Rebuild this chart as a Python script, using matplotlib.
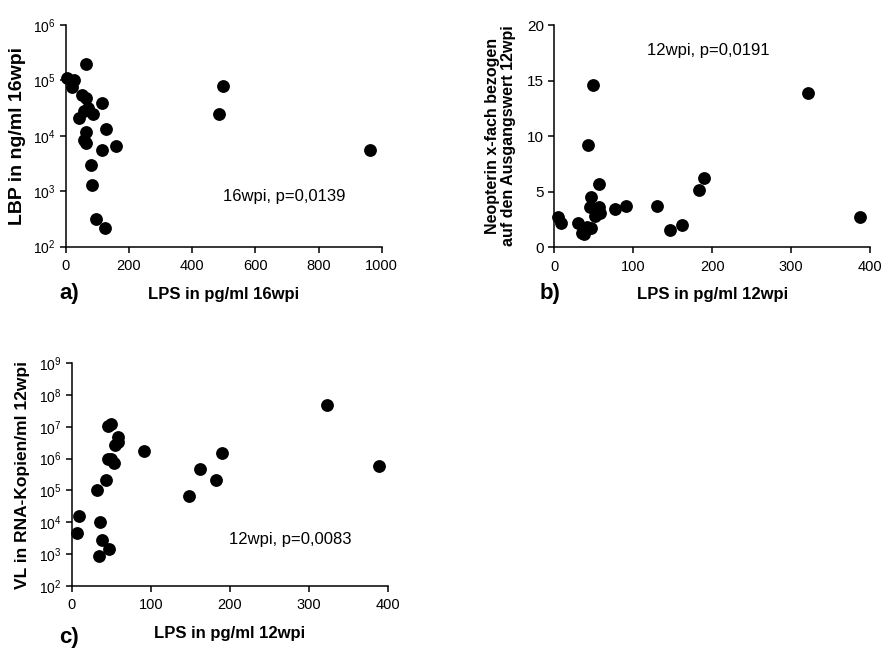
import matplotlib
matplotlib.use("Agg")
import matplotlib.pyplot as plt
from matplotlib.ticker import LogLocator, LogFormatterSciNotation, NullLocator

plt.rcParams["font.family"] = ["Liberation Sans", "DejaVu Sans"]
plt.rcParams["mathtext.fontset"] = "custom"
plt.rcParams["mathtext.rm"] = "Liberation Sans"
plt.rcParams["mathtext.it"] = "Liberation Sans:italic"
plt.rcParams["mathtext.bf"] = "Liberation Sans:bold"

# a) LPS vs LBP at 16 wpi
lps_16 = [64, 5, 26, 21, 52, 64, 114, 72, 58, 87, 42, 497, 485, 128, 64,
          58, 64, 159, 116, 964, 80, 84, 96, 124]
lbp_16 = [2.0e5, 1.1e5, 1.02e5, 7.6e4, 5.4e4, 4.8e4, 3.9e4, 3.2e4, 2.8e4,
          2.5e4, 2.1e4, 8.0e4, 2.45e4, 1.3e4, 1.15e4, 8.3e3, 7.5e3, 6.6e3,
          5.6e3, 5.5e3, 3.0e3, 1.3e3, 320, 220]

# b) LPS vs neopterin fold change at 12 wpi
lps_12b = [5, 8, 30, 35, 38, 42, 47, 49, 43, 46, 45, 57, 57, 58, 52, 77,
           91, 130, 147, 162, 183, 190, 322, 387]
neopterin_12 = [2.7, 2.15, 2.2, 1.25, 1.15, 1.8, 1.75, 14.6, 9.2, 4.55,
                3.6, 5.65, 3.65, 3.1, 2.75, 3.4, 3.7, 3.7, 1.5, 1.98,
                5.15, 6.25, 13.85, 2.7]

# c) LPS vs viral load at 12 wpi
lps_12c = [7, 9, 32, 35, 36, 38, 47, 43, 46, 50, 53, 46, 50, 55, 58, 59,
           91, 148, 162, 182, 190, 323, 389]
vl_12 = [4.5e3, 1.6e4, 1.0e5, 8.5e2, 1.0e4, 2.8e3, 1.4e3, 2.1e5, 1.0e6,
         1.0e6, 7.2e5, 1.1e7, 1.2e7, 2.7e6, 3.3e6, 4.8e6, 1.8e6, 6.8e4,
         4.6e5, 2.1e5, 1.5e6, 4.8e7, 6.0e5]

x_ticks_a = [0, 200, 400, 600, 800, 1000]
x_ticks_bc = [0, 100, 200, 300, 400]
y_ticks_b = [0, 5, 10, 15, 20]

fig = plt.figure(figsize=(8.83, 6.49), dpi=100)
fig.patch.set_facecolor("white")


def style(ax):
    for side in ("top", "right"):
        ax.spines[side].set_visible(False)
    for side in ("left", "bottom"):
        ax.spines[side].set_linewidth(1.1)
    ax.tick_params(direction="out", length=4.5, width=1.1, colors="black",
                   labelsize=10.5, pad=3)
    ax.tick_params(axis="x", pad=4.5)
    ax.margins(0)


def dots(ax, x, y):
    ax.plot(x, y, "o", color="black", markersize=8.2, clip_on=False,
            linestyle="none", zorder=3)


def log_axis(ax):
    ax.yaxis.set_major_locator(LogLocator(base=10, numticks=12))
    ax.yaxis.set_major_formatter(LogFormatterSciNotation())
    ax.yaxis.set_minor_locator(NullLocator())
    ax.tick_params(axis="y", labelsize=10)


# Panel a
ax_a = fig.add_axes([0.0744, 0.620, 0.358, 0.3416])
dots(ax_a, lps_16, lbp_16)
ax_a.set_yscale("log")
ax_a.set_xlim(0, 1000)
ax_a.set_ylim(1e2, 1e6)
ax_a.set_xticks(x_ticks_a)
style(ax_a)
log_axis(ax_a)
ax_a.set_xlabel("LPS in pg/ml 16wpi", fontsize=12, fontweight="bold", labelpad=10)
ax_a.set_ylabel("LBP in ng/ml 16wpi", fontsize=14, fontweight="bold", labelpad=5)
ax_a.text(0.497, 0.224, "16wpi, p=0,0139", transform=ax_a.transAxes,
          fontsize=12, va="center", ha="left")
fig.text(0.067, 0.547, "a)", fontsize=16, fontweight="bold", va="center")

# Panel b
ax_b = fig.add_axes([0.6277, 0.6194, 0.3575, 0.342])
dots(ax_b, lps_12b, neopterin_12)
ax_b.set_xlim(0, 400)
ax_b.set_ylim(0, 20)
ax_b.set_xticks(x_ticks_bc)
ax_b.set_yticks(y_ticks_b)
style(ax_b)
ax_b.tick_params(axis="y", labelsize=11)
ax_b.set_xlabel("LPS in pg/ml 12wpi", fontsize=12, fontweight="bold", labelpad=10)
ax_b.set_ylabel("Neopterin x-fach bezogen\nauf den Ausgangswert 12wpi",
                fontsize=11.5, fontweight="bold", labelpad=8, linespacing=1.05)
ax_b.text(0.293, 0.887, "12wpi, p=0,0191", transform=ax_b.transAxes,
          fontsize=12, va="center", ha="left")
fig.text(0.611, 0.548, "b)", fontsize=16, fontweight="bold", va="center")

# Panel c
ax_c = fig.add_axes([0.0812, 0.0975, 0.358, 0.3427])
dots(ax_c, lps_12c, vl_12)
ax_c.set_yscale("log")
ax_c.set_xlim(0, 400)
ax_c.set_ylim(1e2, 1e9)
ax_c.set_xticks(x_ticks_bc)
style(ax_c)
log_axis(ax_c)
ax_c.set_xlabel("LPS in pg/ml 12wpi", fontsize=12, fontweight="bold", labelpad=10)
ax_c.set_ylabel("VL in RNA-Kopien/ml 12wpi", fontsize=12.5, fontweight="bold", labelpad=6)
ax_c.text(0.498, 0.21, "12wpi, p=0,0083", transform=ax_c.transAxes,
          fontsize=12, va="center", ha="left")
fig.text(0.067, 0.018, "c)", fontsize=16, fontweight="bold", va="center")

fig.savefig("out.png", dpi=100, facecolor="white")
